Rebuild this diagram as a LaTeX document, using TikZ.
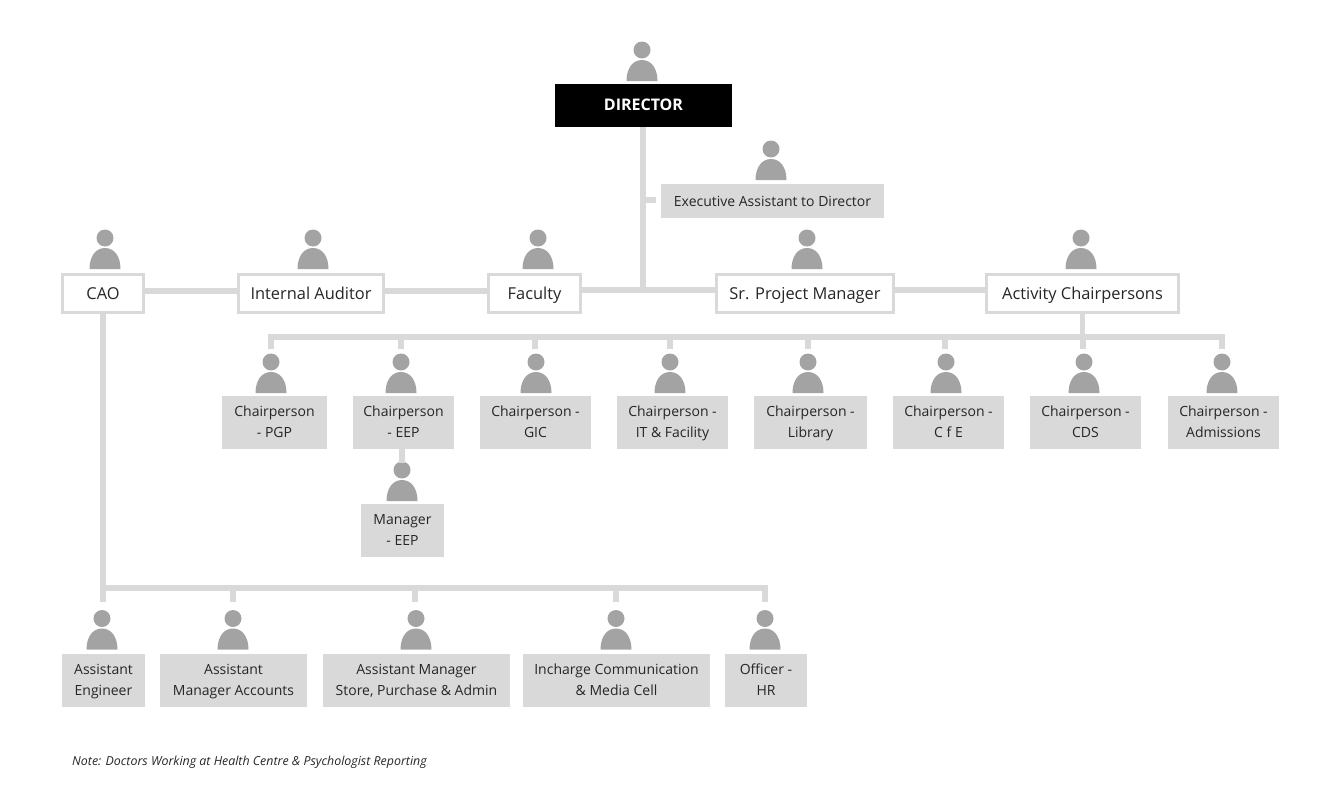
\documentclass[tikz,border=0pt]{standalone}
\usepackage{fontspec}
\setmainfont{Open Sans}
\definecolor{linegrey}{HTML}{D9D9D9}
\definecolor{icongrey}{HTML}{A3A3A3}
\definecolor{textgrey}{HTML}{262626}
\tikzset{
	headbox/.style={rectangle,fill=black,text=white,font=\fontsize{16}{18}\selectfont\bfseries,text height=13pt,text depth=3pt,minimum width=177pt,minimum height=43pt,inner sep=0pt,outer sep=0pt},
	rolebox/.style={rectangle,draw=linegrey,line width=3pt,fill=white,text=textgrey,font=\fontsize{16.4}{18}\selectfont,text height=14pt,text depth=2pt,minimum height=38pt,inner sep=0pt,outer sep=0pt},
	staffbox/.style={rectangle,fill=linegrey,text=textgrey,font=\fontsize{14}{21}\selectfont,align=center,minimum height=53pt,inner sep=0pt,outer sep=0pt},
	link/.style={draw=linegrey,line width=5.5pt},
	pics/person/.style={code={
				\fill[icongrey] (0,-31) circle[radius=8.5pt];
				\fill[icongrey] (-15.5,0) .. controls (-15.5,-13) and (-9,-21) .. (0,-21) .. controls (9,-21) and (15.5,-13) .. (15.5,0) -- cycle;
			}},
}
\begin{document}
\begin{tikzpicture}[x=1pt,y=-1pt]
	\useasboundingbox (0,0) rectangle (1342,811);

	\node[headbox] (director) at (643.5,105.5) {DIRECTOR};
	\pic at (642,81) {person};
	\node[staffbox,minimum width=223pt,minimum height=34pt,text height=15.7pt,text depth=5.3pt] (assistant) at (772.5,201) {Executive Assistant to Director};
	\pic at (771,180) {person};

	% second row
	\foreach \name/\cx/\w/\px/\txt in {
			cao/103/81/105/CAO,
			auditor/311/145/313/Internal Auditor,
			faculty/534.5/92/538/Faculty,
			manager/805/177/807/Sr. Project Manager,
			activity/1082.5/192/1081/Activity Chairpersons} {
			\node[rolebox,minimum width=\w pt] (\name) at (\cx,293) {\txt};
			\pic at (\px,269) {person};
		}

	% chairpersons
	\foreach \name/\cx/\w/\px/\lineone/\linetwo in {
			pgp/274.5/105/271/Chairperson/- PGP,
			eep/403.5/101/401/Chairperson/- EEP,
			gic/535.5/111/536/Chairperson -/GIC,
			it/672.5/111/670/Chairperson -/IT \& Facility,
			library/810.5/113/808/Chairperson -/Library,
			cfe/948.5/111/946/Chairperson -/C f E,
			cds/1085.5/111/1084/Chairperson -/CDS,
			admissions/1223.5/111/1222/Chairperson -/Admissions} {
			\node[staffbox,minimum width=\w pt] (\name) at (\cx,422.5) {\strut\lineone\\\strut\linetwo};
			\pic at (\px,393) {person};
		}

	\node[staffbox,minimum width=83pt] (eepmanager) at (402.5,530.5) {\strut Manager\\\strut- EEP};
	\pic at (402,501) {person};

	% staff under CAO
	\foreach \name/\cx/\w/\px/\lineone/\linetwo in {
			engineer/103.5/83/102/Assistant/Engineer,
			accounts/233.5/147/233/Assistant/Manager Accounts,
			store/416.5/187/416/Assistant Manager/{Store, Purchase \& Admin},
			media/616.5/187/616/Incharge Communication/\& Media Cell,
			hr/766/82/765/Officer -/HR} {
			\node[staffbox,minimum width=\w pt] (\name) at (\cx,680.5) {\strut\lineone\\\strut\linetwo};
			\pic at (\px,649.5) {person};
		}

	% connectors
	\coordinate (rowjoin) at (643,290);
	\coordinate (assistantjoin) at (643,200);
	\coordinate (assistantend) at (656,200);
	\draw[link] (director.south -| rowjoin) -- (rowjoin);
	\draw[link] (assistantjoin) -- (assistantend);
	\draw[link] ([yshift=2pt]cao.east) -- ([yshift=2pt]auditor.west);
	\draw[link] ([yshift=2pt]auditor.east) -- ([yshift=2pt]faculty.west);
	\draw[link] ([yshift=3pt]faculty.east) -- ([yshift=3pt]manager.west);
	\draw[link] ([yshift=3pt]manager.east) -- ([yshift=3pt]activity.west);

	\coordinate (chairbusleft) at (271,337);
	\coordinate (chairbusright) at (1222,337);
	\draw[link,line cap=rect] (chairbusleft) -- (chairbusright);
	\draw[link] (activity.south) -- (activity.south |- chairbusleft);
	\foreach \name/\x in {pgp/271,eep/401,gic/535,it/670,library/808,cfe/945,cds/1083,admissions/1222} {
			\coordinate (top\name) at (\x,337);
			\coordinate (end\name) at (\x,349);
			\draw[link] (top\name) -- (end\name);
		}
	\coordinate (eephead) at (402,463);
	\draw[link] (eep.south -| eephead) -- (eephead);

	\coordinate (staffbusleft) at (103,588);
	\coordinate (staffbusright) at (765,588);
	\coordinate (caoend) at (103,602);
	\draw[link] (cao.south -| caoend) -- (caoend);
	\draw[link,line cap=rect] (staffbusleft) -- (staffbusright);
	\foreach \name/\x in {accounts/233,store/415,media/616,hr/765} {
			\coordinate (top\name) at (\x,588);
			\coordinate (end\name) at (\x,602);
			\draw[link] (top\name) -- (end\name);
		}

	\node[anchor=base west,inner sep=0pt,text=textgrey,font=\fontsize{12.4}{14}\selectfont\itshape] (note) at (72,765) {Note: Doctors Working at Health Centre \& Psychologist Reporting};
\end{tikzpicture}
\end{document}
